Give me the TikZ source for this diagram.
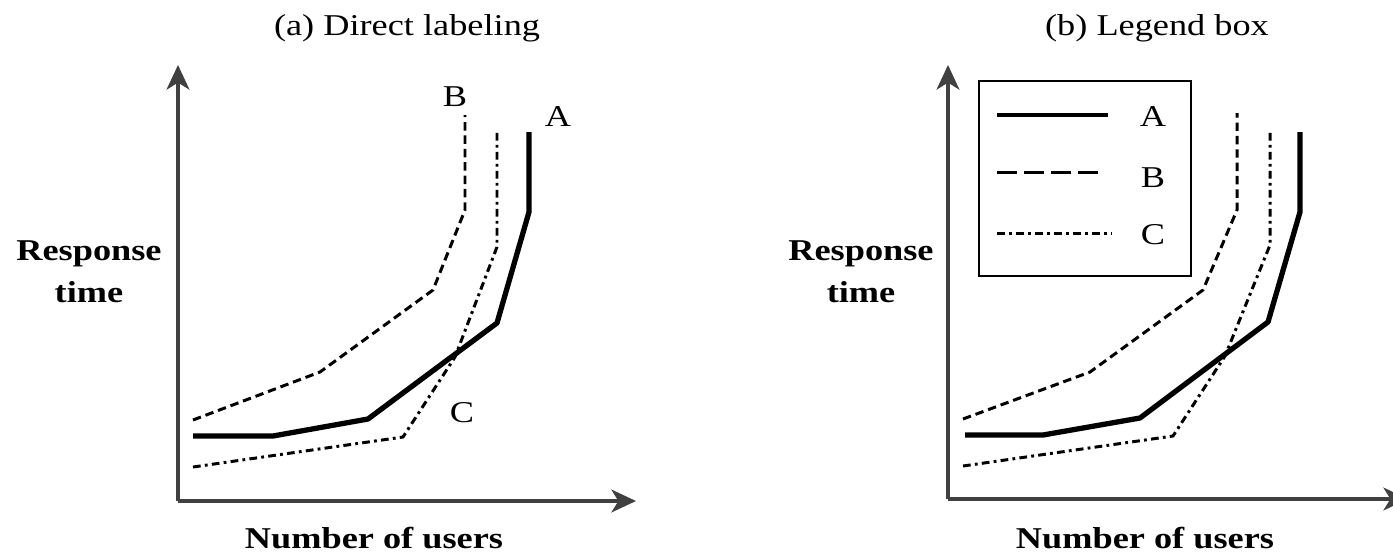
\documentclass[tikz,border=0pt]{standalone}
\usepackage{fontspec}
\setmainfont[FakeStretch=1.2]{Liberation Serif}
\usetikzlibrary{arrows.meta}

\begin{document}
\begin{tikzpicture}[x=0.01cm,y=-0.01cm,
    axis/.style={draw=black!75,line width=0.9pt,-{Stealth[length=7pt,width=6.5pt,inset=2pt]}},
    curveA/.style={line width=1.5pt,line join=round},
    curveB/.style={line width=0.85pt,dash pattern=on 2.4pt off 1.4pt},
    curveC/.style={line width=0.85pt,dash pattern=on 2.2pt off 1.2pt on 0.8pt off 1.2pt},
    lbl/.style={font=\fontsize{8.6}{12}\selectfont,inner sep=0pt},
    axlbl/.style={font=\fontsize{8.6}{12}\selectfont\bfseries,align=center,inner sep=0pt}]
  \useasboundingbox (0,0) rectangle (1393,554);
  \clip (0,0) rectangle (1393,554);
  % (a) direct labeling
  \begin{scope}
    \node[lbl] (titleA) at (407,28) {(a) Direct labeling};
    \coordinate (oA) at (178,501);
    \coordinate (ytopA) at (178,65);
    \coordinate (xendA) at (636,501);
    \draw[axis] (oA) -- (ytopA);
    \draw[axis] (oA) -- (xendA);
    \node[axlbl] (respA) at (89,272) {Response\\time};
    \node[axlbl] (usersA) at (374,538) {Number of users};
    \draw[curveA] (193,436) -- (273,436) -- (368,419) -- (497,323) -- (529,212) -- (529,132);
    \draw[curveB] (193,420) -- (320,372) -- (433,290) -- (465,210) -- (465,115);
    \draw[curveC] (193,467) -- (403,437) -- (455,357) -- (497,247) -- (497,130);
    \node[lbl] (labA) at (558,117) {A};
    \node[lbl] (labB) at (455,97) {B};
    \node[lbl] (labC) at (462,413) {C};
  \end{scope}
  % (b) legend box
  \begin{scope}[shift={(770,0)}]
    \node[lbl] (titleB) at (387,28) {(b) Legend box};
    \coordinate (oB) at (178,499);
    \coordinate (ytopB) at (178,65);
    \coordinate (xendB) at (638,499);
    \draw[axis] (oB) -- (ytopB);
    \draw[axis] (oB) -- (xendB);
    \node[axlbl] (respB) at (91,272) {Response\\time};
    \node[axlbl] (usersB) at (375,538) {Number of users};
    \draw[curveA] (195,435) -- (273,435) -- (370,418) -- (498,322) -- (530,212) -- (530,132);
    \draw[curveB] (193,419) -- (320,372) -- (433,290) -- (467,210) -- (467,113);
    \draw[curveC] (193,466) -- (403,436) -- (455,356) -- (500,245) -- (500,130);
    \node[draw,line width=0.7pt,minimum width=212*0.01cm,minimum height=195*0.01cm,anchor=north west] (legend) at (208,80) {};
    \draw[line width=1.4pt] (227,115) -- (338,115);
    \draw[line width=0.85pt,dash pattern=on 5.7pt off 2pt] (227,172) -- (332,172);
    \draw[curveC] (227,233) -- (342,233);
    \node[lbl] (legA) at (383,117) {A};
    \node[lbl] (legB) at (383,178) {B};
    \node[lbl] (legC) at (383,235) {C};
  \end{scope}
\end{tikzpicture}
\end{document}
